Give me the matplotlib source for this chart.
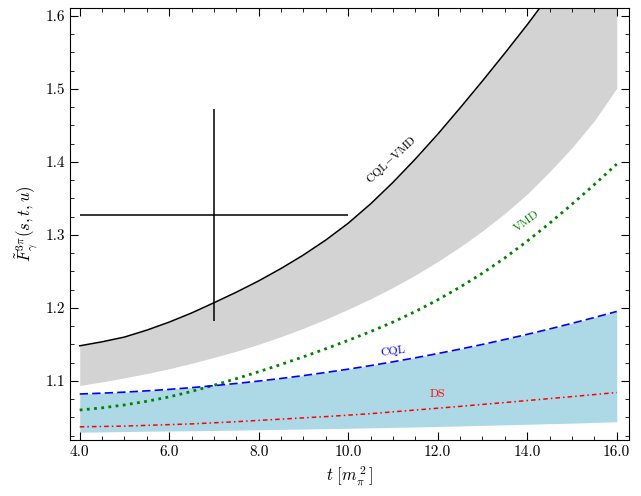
import numpy as np
import matplotlib
matplotlib.use('Agg')
import matplotlib.pyplot as plt
from matplotlib.ticker import MultipleLocator, FormatStrFormatter

plt.rcParams['font.family'] = 'serif'
plt.rcParams['font.serif'] = ['cmr10']
plt.rcParams['mathtext.fontset'] = 'cm'
plt.rcParams['axes.formatter.use_mathtext'] = True

# t in units of m_pi^2 (read every 0.5)
t = [4.0, 4.5, 5.0, 5.5, 6.0, 6.5, 7.0, 7.5, 8.0, 8.5, 9.0, 9.5, 10.0,
     10.5, 11.0, 11.5, 12.0, 12.5, 13.0, 13.5, 14.0, 14.5, 15.0, 15.5, 16.0]

# CQL-VMD band (upper edge drawn as the solid line)
cqlvmd_upper = [1.148, 1.1535, 1.160, 1.1695, 1.1805, 1.193, 1.207, 1.2215, 1.237, 1.254, 1.2725, 1.293, 1.316,
                1.3425, 1.372, 1.404, 1.438, 1.474, 1.511, 1.549, 1.588, 1.629, 1.671, 1.714, 1.758]
cqlvmd_lower = [1.0936, 1.0986, 1.1041, 1.1101, 1.1166, 1.1241, 1.1321, 1.1406, 1.1501, 1.1606, 1.1721, 1.1846, 1.1981,
                1.2125, 1.228, 1.245, 1.2635, 1.2835, 1.3055, 1.3295, 1.356, 1.3865, 1.4195, 1.4565, 1.501]

# VMD
vmd = [1.060, 1.063, 1.067, 1.072, 1.078, 1.0855, 1.094, 1.103, 1.1125, 1.1225, 1.133, 1.144, 1.1555,
       1.1675, 1.1805, 1.195, 1.211, 1.2285, 1.2475, 1.2685, 1.2915, 1.316, 1.342, 1.369, 1.397]

# CQL band (upper edge drawn as the dashed line)
cql_upper = [1.082, 1.0831, 1.0845, 1.0863, 1.0883, 1.0907, 1.0934, 1.0964, 1.0997, 1.1033, 1.1072, 1.1115, 1.116,
             1.1209, 1.1261, 1.1316, 1.1374, 1.1435, 1.1499, 1.1567, 1.1637, 1.1711, 1.1788, 1.1868, 1.1951]
cql_lower = [1.0297, 1.030, 1.0305, 1.031, 1.0313, 1.0316, 1.032, 1.0325, 1.033, 1.0335, 1.034, 1.0345, 1.035,
             1.0356, 1.0362, 1.0368, 1.0375, 1.0382, 1.039, 1.0397, 1.0405, 1.0413, 1.042, 1.043, 1.044]

# DS
ds = [1.037, 1.0375, 1.038, 1.039, 1.040, 1.041, 1.0425, 1.044, 1.0458, 1.0475, 1.0493, 1.051, 1.053,
      1.055, 1.0575, 1.060, 1.0625, 1.065, 1.0677, 1.0703, 1.073, 1.0757, 1.0784, 1.0812, 1.084]

# data point with errors
pt_t, pt_F = 7.0, 1.3275
pt_terr, pt_Ferr = 3.0, 0.1455

fig = plt.figure(figsize=(6.41, 4.96), dpi=100)
ax = fig.add_axes([0.109, 0.113, 0.872, 0.871])

ax.fill_between(t, cqlvmd_lower, cqlvmd_upper, color='lightgray', lw=0)
ax.fill_between(t, cql_lower, cql_upper, color='lightblue', lw=0)

ax.plot(t, cqlvmd_upper, color='black', lw=1.1)
ax.plot(t, vmd, color='green', lw=2.0, ls=(0, (1, 1.6)))
ax.plot(t, cql_upper, color='blue', lw=1.2, ls=(0, (5, 2.5)))
ax.plot(t, ds, color='red', lw=1.1, ls=(0, (3, 2, 1, 2)))

ax.errorbar(pt_t, pt_F, xerr=pt_terr, yerr=pt_Ferr, color='black', lw=1.1, capsize=0, fmt='none')

ax.text(10.97, 1.403, 'CQL$-$VMD', color='black', fontsize=8.5, rotation=43, ha='center', va='center')
ax.text(13.98, 1.318, 'VMD', color='green', fontsize=8.5, rotation=36, ha='center', va='center')
ax.text(11.0, 1.140, 'CQL', color='blue', fontsize=8.5, rotation=8, ha='center', va='center')
ax.text(12.0, 1.081, 'DS', color='red', fontsize=8.5, ha='center', va='center')

ax.set_xlim(3.78, 16.27)
ax.set_ylim(1.019, 1.611)

ax.xaxis.set_major_locator(MultipleLocator(2.0))
ax.xaxis.set_minor_locator(MultipleLocator(0.5))
ax.yaxis.set_major_locator(MultipleLocator(0.1))
ax.yaxis.set_minor_locator(MultipleLocator(0.025))
ax.xaxis.set_major_formatter(FormatStrFormatter('%.1f'))
ax.yaxis.set_major_formatter(FormatStrFormatter('%.1f'))
ax.tick_params(which='both', direction='in', top=True, right=True, labelsize=11)
ax.tick_params(which='major', length=6)
ax.tick_params(which='minor', length=3)

ax.set_xlabel(r'$t\ [m_\pi^{\,2}\,]$', fontsize=12)
ax.set_ylabel(r'$\tilde{F}_{\gamma}^{3\pi}(s,t,u)$', fontsize=12)

fig.savefig('out.png', dpi=100)
